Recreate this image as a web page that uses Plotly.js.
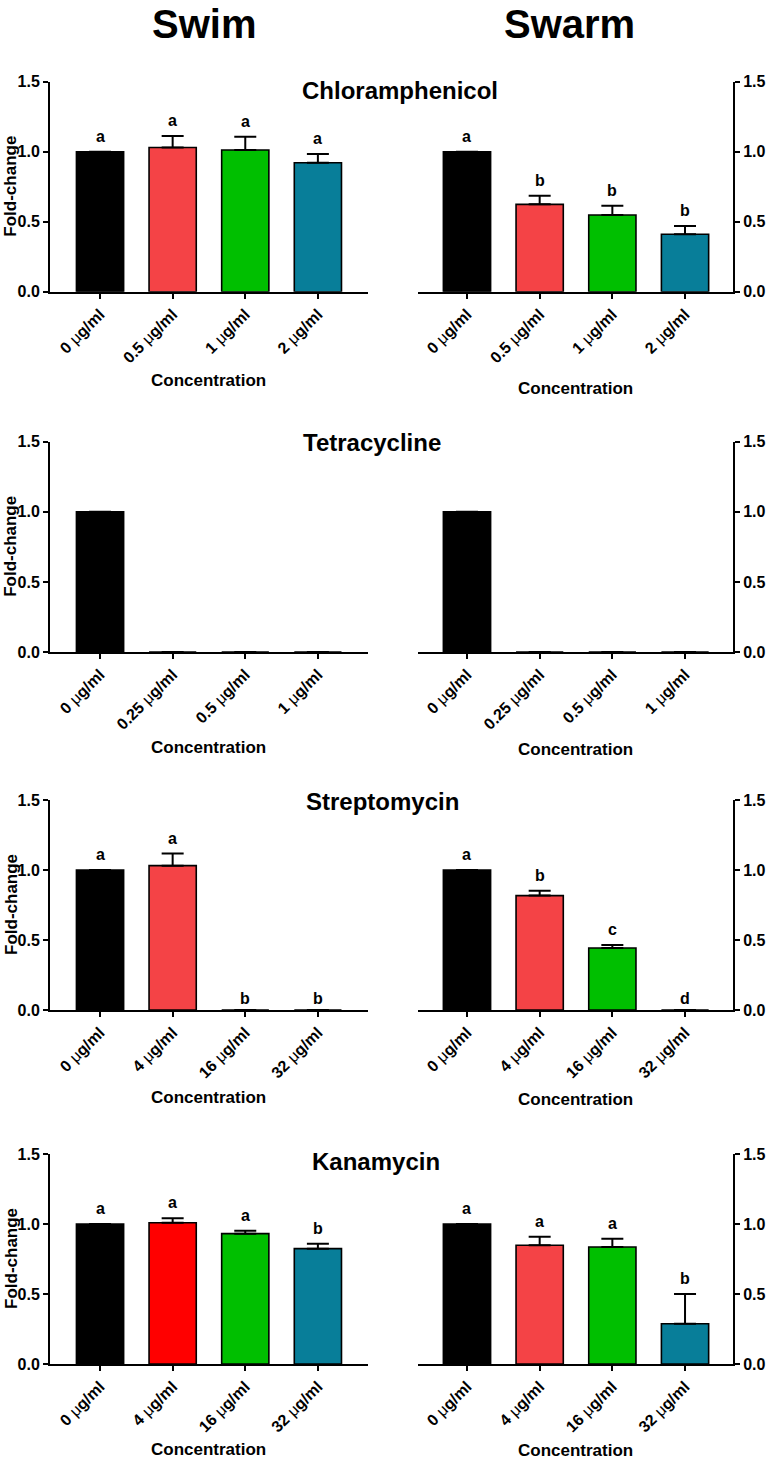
<!DOCTYPE html>
<html>
<head>
<meta charset="utf-8">
<script src="https://cdn.plot.ly/plotly-3.0.1.min.js"></script>
<style>html,body{margin:0;padding:0;background:#fff;}#chart{width:766px;height:1460px;}</style>
</head>
<body>
<div id="chart"></div>
<script>
// ---------- data ----------
const headers = ["Swim", "Swarm"];
const drugs = ["Chloramphenicol", "Tetracycline", "Streptomycin", "Kanamycin"];

const catChl = ["0 μg/ml", "0.5 μg/ml", "1 μg/ml", "2 μg/ml"];
const catTet = ["0 μg/ml", "0.25 μg/ml", "0.5 μg/ml", "1 μg/ml"];
const catStr = ["0 μg/ml", "4 μg/ml", "16 μg/ml", "32 μg/ml"];
const catKan = ["0 μg/ml", "4 μg/ml", "16 μg/ml", "32 μg/ml"];

const swimChl = [1.0, 1.03, 1.012, 0.921];
const swimChlErr = [null, 0.082, 0.095, 0.062];
const swimChlLet = ["a", "a", "a", "a"];
const swarmChl = [1.0, 0.624, 0.548, 0.41];
const swarmChlErr = [null, 0.062, 0.066, 0.059];
const swarmChlLet = ["a", "b", "b", "b"];

const swimTet = [1.0, 0, 0, 0];
const swimTetErr = [null, null, null, null];
const swimTetLet = ["", "", "", ""];
const swarmTet = [1.0, 0, 0, 0];
const swarmTetErr = [null, null, null, null];
const swarmTetLet = ["", "", "", ""];

const swimStr = [1.0, 1.031, 0, 0];
const swimStrErr = [null, 0.086, null, null];
const swimStrLet = ["a", "a", "b", "b"];
const swarmStr = [1.0, 0.817, 0.443, 0];
const swarmStrErr = [null, 0.035, 0.021, null];
const swarmStrLet = ["a", "b", "c", "d"];

const swimKan = [1.0, 1.009, 0.931, 0.824];
const swimKanErr = [null, 0.032, 0.021, 0.035];
const swimKanLet = ["a", "a", "a", "b"];
const swarmKan = [1.0, 0.848, 0.836, 0.288];
const swarmKanErr = [null, 0.061, 0.059, 0.212];
const swarmKanLet = ["a", "a", "a", "b"];

const colorsStd = ["#000000", "#F44346", "#00BF00", "#087E99"];
const colorsKanSwim = ["#000000", "#FF0000", "#00BF00", "#087E99"];

const yTicks = [0, 0.5, 1.0, 1.5];

// ---------- layout geometry ----------
const W = 766, H = 1460;
const rowTop = [81.7, 441.7, 800, 1154];
const rowBot = [291.7, 652, 1010, 1364];
const colLeft = [50, 418];
const colRight = [368, 733];
const xRanges = [[-0.689, 3.69], [-0.674, 3.66]];
const titlePos = [[400, 90], [371.5, 443], [382, 801.7], [376, 1161.7]];
const concY = [[381, 389], [747, 749], [1097, 1099], [1449, 1450]];

const panels = [
  [catChl, swimChl, swimChlErr, swimChlLet, colorsStd, catChl, swarmChl, swarmChlErr, swarmChlLet, colorsStd],
  [catTet, swimTet, swimTetErr, swimTetLet, colorsStd, catTet, swarmTet, swarmTetErr, swarmTetLet, colorsStd],
  [catStr, swimStr, swimStrErr, swimStrLet, colorsStd, catStr, swarmStr, swarmStrErr, swarmStrLet, colorsStd],
  [catKan, swimKan, swimKanErr, swimKanLet, colorsKanSwim, catKan, swarmKan, swarmKanErr, swarmKanLet, colorsStd]
];

const FAM = "Liberation Sans, Arial, Helvetica, sans-serif";
const px = v => v / W;
const py = v => 1 - v / H;
const fmt = s => s.replace("μ", '<span style="font-weight:normal">μ</span>');

const traces = [];
const annotations = [];
const layout = {
  width: W, height: H,
  margin: {l: 0, r: 0, t: 0, b: 0},
  paper_bgcolor: "#fff", plot_bgcolor: "rgba(0,0,0,0)",
  showlegend: false,
  font: {family: FAM, color: "#000"},
  bargap: 0.35
};

for (let r = 0; r < 4; r++) {
  for (let c = 0; c < 2; c++) {
    const n = r * 2 + c + 1;
    const sfx = n === 1 ? "" : String(n);
    const p = panels[r];
    const cats = p[c * 5], vals = p[c * 5 + 1], errs = p[c * 5 + 2], lets = p[c * 5 + 3], cols = p[c * 5 + 4];
    traces.push({
      type: "bar", x: cats, y: vals, xaxis: "x" + sfx, yaxis: "y" + sfx,
      width: 0.65,
      marker: {color: cols, line: {color: "#000", width: 1.6}},
      error_y: {type: "data", symmetric: false, array: errs,
                arrayminus: errs.map(() => 0), visible: true,
                color: "#000", thickness: 2, width: 11},
      hoverinfo: "skip", cliponaxis: false
    });
    layout["xaxis" + sfx] = {
      domain: [px(colLeft[c]), px(colRight[c])],
      anchor: "y" + sfx, type: "category", range: xRanges[c],
      showline: true, linecolor: "#000", linewidth: 2,
      ticks: "outside", ticklen: 5, tickwidth: 2, tickcolor: "#000",
      tickmode: "array", tickvals: cats, ticktext: cats.map(fmt),
      tickangle: -45, showgrid: false, zeroline: false,
      tickfont: {family: FAM, size: 16, weight: "bold", color: "#000"},
      fixedrange: true
    };
    layout["yaxis" + sfx] = {
      domain: [py(rowBot[r]), py(rowTop[r])],
      anchor: "x" + sfx, side: c === 0 ? "left" : "right",
      range: [0, 1.5], tickmode: "array", tickvals: yTicks,
      ticktext: yTicks.map(v => v.toFixed(1)),
      showline: true, linecolor: "#000", linewidth: 2,
      ticks: "outside", ticklen: 5, tickwidth: 2, tickcolor: "#000",
      showgrid: false, zeroline: false,
      tickfont: {family: FAM, size: 16, weight: "bold", color: "#000"},
      fixedrange: true
    };
    // significance letters
    cats.forEach((cat, i) => {
      if (!lets[i]) return;
      annotations.push({
        xref: "x" + sfx, yref: "y" + sfx, x: cat,
        y: vals[i] + (errs[i] || 0), yanchor: "bottom", yshift: vals[i] === 0 ? 1 : 5,
        text: lets[i], showarrow: false,
        font: {family: FAM, size: 16, weight: "bold", color: "#000"}
      });
    });
    // Concentration axis title
    annotations.push({
      xref: "paper", yref: "paper",
      x: px((colLeft[c] + colRight[c]) / 2), y: py(concY[r][c]),
      xanchor: "center", yanchor: "middle", text: "Concentration", showarrow: false,
      font: {family: FAM, size: 17, weight: "bold", color: "#000"}
    });
  }
  // Fold-change y title (left panels only)
  annotations.push({
    xref: "paper", yref: "paper", x: px(11), y: py((rowTop[r] + rowBot[r]) / 2),
    xanchor: "center", yanchor: "middle", textangle: -90, text: "Fold-change", showarrow: false,
    font: {family: FAM, size: 17, weight: "bold", color: "#000"}
  });
  // Drug title
  annotations.push({
    xref: "paper", yref: "paper", x: px(titlePos[r][0]), y: py(titlePos[r][1]),
    xanchor: "center", yanchor: "middle", text: drugs[r], showarrow: false,
    font: {family: FAM, size: 24, weight: "bold", color: "#000"}
  });
}
// Column headers
[204, 569.5].forEach((xc, i) => {
  annotations.push({
    xref: "paper", yref: "paper", x: px(xc), y: 1,
    xanchor: "center", yanchor: "top", text: headers[i], showarrow: false,
    font: {family: FAM, size: 40, weight: "bold", color: "#000"}
  });
});
layout.annotations = annotations;

Plotly.newPlot("chart", traces, layout, {staticPlot: true, displayModeBar: false});
</script>
</body>
</html>
